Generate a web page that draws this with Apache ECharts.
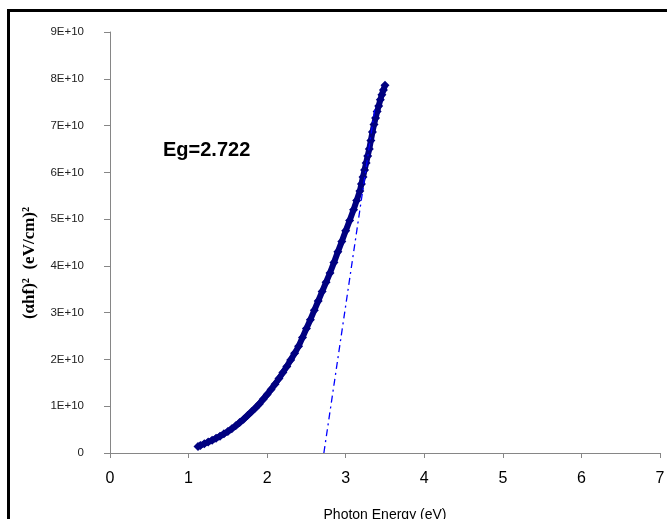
<!DOCTYPE html>
<html><head><meta charset="utf-8">
<script src="https://cdn.jsdelivr.net/npm/echarts@6/dist/echarts.min.js"></script>
<style>html,body{margin:0;padding:0;background:#fff}#c{width:667px;height:519px}</style>
</head><body><div id="c"></div>
<script>
var photonEnergy = [1.12,1.15,1.20,1.25,1.30,1.35,1.40,1.45,1.50,1.55,1.60,1.65,1.70,1.75,1.80,1.85,1.90,1.95,2.00,2.05,2.10,2.15,2.20,2.25,2.30,2.35,2.40,2.45,2.50,2.55,2.60,2.65,2.70,2.75,2.80,2.85,2.90,2.95,3.00,3.05,3.10,3.14,3.18,3.20,3.22,3.24,3.26,3.28,3.30,3.32,3.34,3.36,3.38,3.40,3.42,3.44,3.46,3.48,3.50];
var alphaHfSq = [0.14e10,0.16e10,0.20e10,0.235e10,0.27e10,0.315e10,0.36e10,0.41e10,0.46e10,0.52e10,0.58e10,0.65e10,0.72e10,0.80e10,0.88e10,0.96e10,1.05e10,1.15e10,1.25e10,1.36e10,1.47e10,1.59e10,1.72e10,1.85e10,1.99e10,2.13e10,2.28e10,2.47e10,2.66e10,2.85e10,3.05e10,3.25e10,3.45e10,3.65e10,3.85e10,4.07e10,4.30e10,4.52e10,4.75e10,4.97e10,5.20e10,5.40e10,5.60e10,5.75e10,5.90e10,6.05e10,6.20e10,6.35e10,6.50e10,6.68e10,6.86e10,7.02e10,7.16e10,7.30e10,7.42e10,7.55e10,7.66e10,7.76e10,7.86e10];
var tangentX = [2.722, 3.37];
var tangentY = [0, 7.35e10];
var xTicks = [0,1,2,3,4,5,6,7];
var yTickLabels = ['0','1E+10','2E+10','3E+10','4E+10','5E+10','6E+10','7E+10','8E+10','9E+10'];
var annotation = 'Eg=2.722';
var yTitle = '(\u03b1hf)\u00b2  (eV/cm)\u00b2';
var xTitle = 'Photon Energy (eV)';

var chart = echarts.init(document.getElementById('c'));
var curve = photonEnergy.map(function(x,i){return [x, alphaHfSq[i]];});
var tangent = tangentX.map(function(x,i){return [x, tangentY[i]];});
chart.setOption({
  animation:false,
  grid:{left:110,right:7,top:32,bottom:66,outerBoundsMode:'none',containLabel:false},
  xAxis:{type:'value',min:0,max:7,interval:1,
    axisLine:{show:true,lineStyle:{color:'#868686',width:1}},
    axisTick:{show:true,length:5,lineStyle:{color:'#868686'}},
    splitLine:{show:false},
    axisLabel:{margin:18,fontSize:16,color:'#000',fontFamily:'Liberation Sans, Arial, sans-serif',
      formatter:function(v){return xTicks.indexOf(v)>=0?String(v):'';}}
  },
  yAxis:{type:'value',min:0,max:9e10,interval:1e10,
    axisLine:{show:true,lineStyle:{color:'#868686',width:1}},
    axisTick:{show:true,length:6,lineStyle:{color:'#868686'}},
    splitLine:{show:false},
    axisLabel:{margin:26,fontSize:11.5,color:'#222',fontFamily:'Liberation Sans, Arial, sans-serif',
      formatter:function(v){return yTickLabels[Math.round(v/1e10)];}}
  },
  graphic:[
    {type:'rect',shape:{x:8.5,y:10.5,width:720,height:600},style:{fill:'none',stroke:'#000',lineWidth:3},z:100},
    {type:'text',left:163,top:140,style:{text:annotation,font:'bold 20px "Liberation Sans", Arial, sans-serif',fill:'#000'}},
    {type:'text',x:30,y:263,rotation:Math.PI/2,style:{text:yTitle,font:'bold 17px "Liberation Serif", "Times New Roman", serif',fill:'#000',align:'center',verticalAlign:'middle'}},
    {type:'text',x:385,y:515,style:{text:xTitle,font:'14px "Liberation Sans", Arial, sans-serif',fill:'#000',align:'center',verticalAlign:'middle'}}
  ],
  series:[
    {type:'line',data:curve,symbol:'diamond',symbolSize:9,showSymbol:true,
      lineStyle:{color:'#000080',width:6},itemStyle:{color:'#000080'},z:2},
    {type:'line',data:tangent,symbol:'none',
      lineStyle:{color:'#0000ff',width:1.3,type:[7,4,2,4]},z:3}
  ]
});
</script></body></html>
